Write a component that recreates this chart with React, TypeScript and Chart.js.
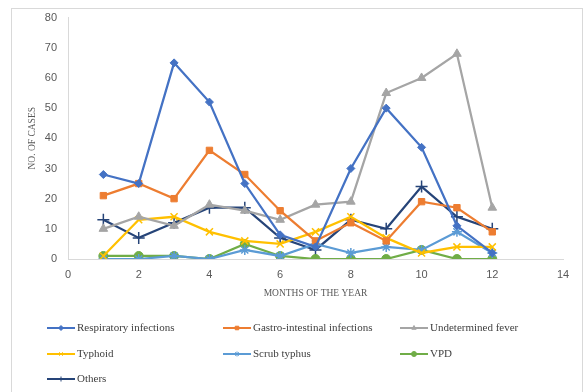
import React, { useEffect, useRef } from "react";
import Chart from "chart.js/auto";
import { drawPoint } from "chart.js/helpers";

const months = [1, 2, 3, 4, 5, 6, 7, 8, 9, 10, 11, 12];
const respiratory = [28, 25, 65, 52, 25, 8, 4, 30, 50, 37, 11, 2];
const gastro = [21, 25, 20, 36, 28, 16, 6, 12, 6, 19, 17, 9];
const undetermined = [10, 14, 11, 18, 16, 13, 18, 19, 55, 60, 68, 17];
const typhoid = [1, 13, 14, 9, 6, 5, 9, 14, 7, 2, 4, 4];
const scrub = [0, 0, 1, 0, 3, 1, 5, 2, 4, 3, 9, 2];
const vpd = [1, 1, 1, 0, 5, 1, 0, 0, 0, 3, 0, 0];
const others = [13, 7, 12, 17, 17, 7, 3, 13, 10, 24, 14, 10];

const seriesNames = [
  "Respiratory infections",
  "Gastro-intestinal infections",
  "Undetermined fever",
  "Typhoid",
  "Scrub typhus",
  "VPD",
  "Others",
];
const seriesValues = [respiratory, gastro, undetermined, typhoid, scrub, vpd, others];
const colors = ["#4472C4", "#ED7D31", "#A5A5A5", "#FFC000", "#5B9BD5", "#70AD47", "#264478"];
const pointStyles = ["rectRot", "rect", "triangle", "crossRot", "star", "circle", "cross"];
const pointRadii = [4, 4.5, 5, 5, 5, 4.5, 6];

const xTitle = "MONTHS OF THE YEAR";
const yTitle = "NO. OF CASES";

const legendPos = [
  [47, 328], [223, 328], [400, 328],
  [47, 354], [223, 354], [400, 354],
  [47, 379],
];

const decorPlugin = {
  id: "decor",
  afterDraw(chart: any) {
    const ctx = chart.ctx;
    const area = chart.chartArea;
    ctx.save();
    // frame
    ctx.strokeStyle = "#d9d9d9";
    ctx.lineWidth = 1;
    ctx.strokeRect(11.5, 8.5, 571, 390);
    // axis titles
    ctx.fillStyle = "#595959";
    ctx.font = "9.5px 'Liberation Serif'";
    ctx.textAlign = "center";
    ctx.textBaseline = "middle";
    ctx.fillText(xTitle, (area.left + area.right) / 2, 293);
    ctx.save();
    ctx.translate(32, (area.top + area.bottom) / 2);
    ctx.rotate(-Math.PI / 2);
    ctx.fillText(yTitle, 0, 0);
    ctx.restore();
    // legend
    ctx.font = "11px 'Liberation Serif'";
    ctx.textAlign = "left";
    chart.data.datasets.forEach((ds: any, i: number) => {
      const [lx, ly] = legendPos[i];
      ctx.strokeStyle = ds.borderColor;
      ctx.lineWidth = 2;
      ctx.beginPath();
      ctx.moveTo(lx, ly);
      ctx.lineTo(lx + 28, ly);
      ctx.stroke();
      ctx.fillStyle = ds.borderColor;
      ctx.lineWidth = 1;
      drawPoint(ctx, { pointStyle: ds.pointStyle, radius: 2.5, borderWidth: 1, rotation: 0 }, lx + 14, ly);
      ctx.fillStyle = "#404040";
      ctx.fillText(ds.label, lx + 30, ly);
    });
    ctx.restore();
  },
};

export default function App() {
  const ref = useRef<HTMLCanvasElement>(null);
  useEffect(() => {
    const datasets = seriesNames.map((name, i) => ({
      label: name,
      data: months.map((m, j) => ({ x: m, y: seriesValues[i][j] })),
      borderColor: colors[i],
      backgroundColor: colors[i],
      pointBackgroundColor: colors[i],
      pointBorderColor: colors[i],
      pointStyle: pointStyles[i],
      pointRadius: pointRadii[i],
      pointBorderWidth: pointStyles[i] === "star" || pointStyles[i] === "cross" || pointStyles[i] === "crossRot" ? 1.5 : 1,
      borderWidth: 2.25,
      tension: 0,
      fill: false,
    }));
    const chart = new Chart(ref.current!, {
      type: "line",
      data: { datasets },
      plugins: [decorPlugin],
      options: {
        animation: false,
        responsive: false,
        maintainAspectRatio: false,
        layout: { padding: { left: 0, top: 16, right: 21, bottom: 83 } },
        plugins: { legend: { display: false }, tooltip: { enabled: false } },
        scales: {
          x: {
            type: "linear",
            min: 0,
            max: 14,
            afterFit: (s: any) => { s.height = 50; },
            ticks: { stepSize: 2, color: "#595959", font: { size: 11, family: "'Liberation Sans'" }, padding: 9 },
            grid: { display: true, color: "transparent", drawTicks: false },
            border: { display: true, color: "#d9d9d9", width: 1 },
          },
          y: {
            min: 0,
            max: 80,
            afterFit: (s: any) => { s.width = 68; },
            ticks: { stepSize: 10, color: "#595959", font: { size: 11, family: "'Liberation Sans'" }, padding: 11 },
            grid: { display: true, color: "transparent", drawTicks: false },
            border: { display: true, color: "#d9d9d9", width: 1 },
          },
        },
      },
    });
    return () => chart.destroy();
  }, []);
  return (
    <div style={{ position: "absolute", left: 0, top: 0, width: 584, height: 392, background: "#fff" }}>
      <canvas ref={ref} width={584} height={392} style={{ width: 584, height: 392 }} />
    </div>
  );
}
